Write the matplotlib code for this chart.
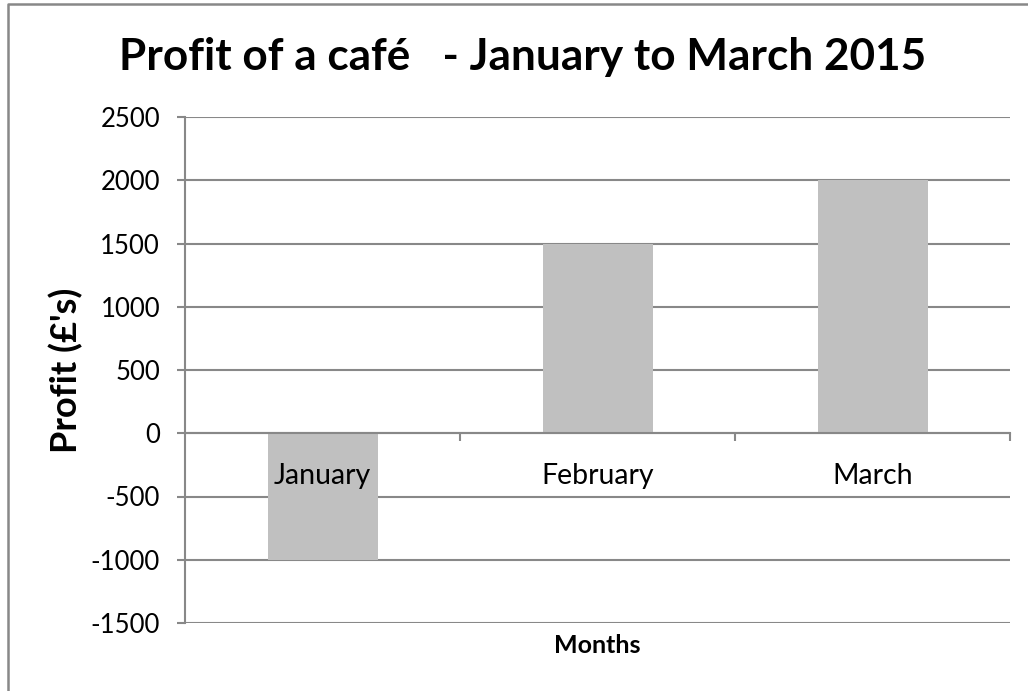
import matplotlib
matplotlib.use("Agg")
import matplotlib.pyplot as plt
from matplotlib.lines import Line2D
import numpy as np

categories = ["January", "February", "March"]
profit = [-1000, 1500, 2000]
yticks = [-1500, -1000, -500, 0, 500, 1000, 1500, 2000, 2500]

W, H = 1028, 691
fig = plt.figure(figsize=(W / 100, H / 100), dpi=100)
plt.rcParams['font.family'] = ['Lato', 'DejaVu Sans']

gray = "#888888"
ax = fig.add_axes([185 / W, 1 - 623 / H, (1010 - 185) / W, (623 - 117) / H])
x = np.arange(len(categories))
ax.bar(x, profit, width=0.4, color="#C0C0C0", zorder=2)
ax.set_xlim(-0.5, len(categories) - 0.5)
ax.set_ylim(yticks[0], yticks[-1])
ax.set_yticks(yticks)
ax.set_yticklabels([str(v) for v in yticks], fontsize=18.5)
ax.yaxis.grid(True, color=gray, linewidth=1.5, zorder=1)
ax.tick_params(axis='y', length=6, width=1.5, color=gray, pad=12)

for s in ['top', 'right']:
    ax.spines[s].set_visible(False)
ax.spines['left'].set_color(gray)
ax.spines['left'].set_linewidth(1.5)
ax.spines['bottom'].set_position(('data', 0))
ax.spines['bottom'].set_color(gray)
ax.spines['bottom'].set_linewidth(1.5)
ax.spines['bottom'].set_zorder(3)

ax.set_xticks(x + 0.5)
ax.set_xticklabels([])
ax.tick_params(axis='x', which='major', length=6, width=1.5, color=gray, direction='out')
ax.set_xticks(x, minor=True)
ax.set_xticklabels(categories, minor=True, fontsize=20.5)
ax.tick_params(axis='x', which='minor', length=0, pad=21.5)
ax.xaxis.set_zorder(5)

fig.text(0.508, 1 - 70 / H, "Profit of a café   - January to March 2015",
         ha='center', va='baseline', fontsize=31.8, fontweight='bold')
fig.text(66 / W, 1 - 370 / H, "Profit (£'s)", rotation=90, ha='center', va='center',
         fontsize=26, fontweight='bold')
fig.text(597 / W, 1 - 653 / H, "Months", ha='center', va='baseline',
         fontsize=18, fontweight='bold')

# chart border
fig.add_artist(Line2D([8 / W, 8 / W, 1.0], [0.0, 1 - 4 / H, 1 - 4 / H],
                      transform=fig.transFigure, color=gray, linewidth=1.8))

fig.savefig("out.png", dpi=100)
